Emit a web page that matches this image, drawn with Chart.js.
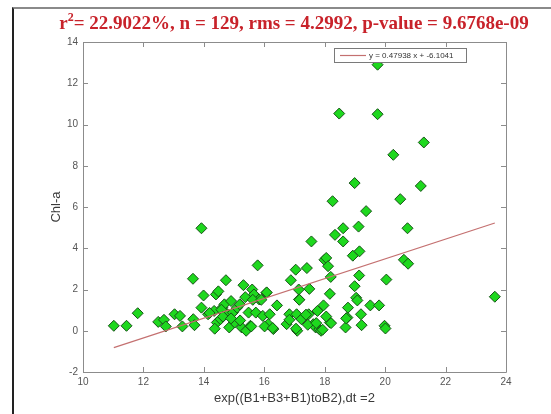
<!DOCTYPE html>
<html>
<head>
<meta charset="utf-8">
<script src="https://cdn.jsdelivr.net/npm/chart.js@4"></script>
<style>
  html, body { margin: 0; padding: 0; background: #fff; }
  #wrap { position: relative; width: 551px; height: 414px; overflow: hidden; }
  #frame { position: absolute; left: 12px; top: 7px; width: 560px; height: 420px;
           border-left: 2px solid #222; border-top: 2px solid #8a8a8a; }
  canvas { position: absolute; left: 0; top: 0; }
</style>
</head>
<body>
<div id="wrap">
  <div id="frame"></div>
  <canvas id="myChart" width="551" height="414"></canvas>
</div>
<script>
// scatter points
var xValues = [11.02,11.44,11.81,12.49,12.68,12.74,13.03,13.21,13.29,13.64,13.65,13.69,13.92,13.92,13.99,14.14,
  14.34,14.40,14.48,14.43,14.55,14.61,14.73,14.68,14.78,14.84,14.90,14.96,15.02,15.10,15.25,15.31,15.19,15.37,
  15.40,15.48,15.54,15.60,15.66,15.78,15.83,15.72,15.95,16.07,16.13,16.18,16.30,16.42,16.74,16.83,16.88,17.04,
  17.07,17.09,17.14,17.15,17.23,17.41,17.47,17.49,17.56,17.62,17.70,17.82,17.76,17.88,17.96,17.99,18.05,18.11,
  18.17,18.17,18.20,18.26,18.34,18.48,18.61,18.61,18.69,18.75,18.77,18.93,18.99,18.99,19.04,19.08,19.12,19.15,
  19.14,19.20,19.22,19.37,19.51,19.75,19.75,19.80,19.98,20.01,20.04,20.27,20.50,20.62,20.74,20.76,21.18,21.28,
  23.63,
  14.19,14.58,14.63,14.36,15.62,15.90,16.08,15.57,16.01,16.28,16.83,17.16,17.05,17.38,17.44,17.72,17.93,18.05,
  18.21,18.71,14.90,15.20];
var yValues = [0.24,0.24,0.85,0.43,0.53,0.21,0.80,0.72,0.21,2.52,0.56,0.27,4.97,1.12,1.71,0.80,
  0.96,1.76,1.91,0.40,0.56,1.12,2.45,1.28,0.80,0.16,1.44,0.88,0.40,1.12,0.16,2.21,1.28,1.63,
  0.00,0.88,0.24,2.00,1.76,3.17,1.52,0.88,0.72,1.84,0.32,0.80,0.08,1.23,0.32,0.80,2.45,2.96,
  0.80,0.00,2.00,1.52,0.56,3.04,0.80,2.03,4.33,0.32,0.16,0.08,0.96,0.00,1.23,3.44,3.53,3.13,
  1.79,0.40,2.61,6.28,4.65,10.53,4.97,4.33,0.16,0.64,1.12,3.64,7.16,2.16,1.60,1.47,5.05,3.85,
  2.68,0.80,0.27,5.80,1.23,12.90,10.50,1.23,0.24,0.11,2.48,8.53,6.38,3.44,4.97,3.25,7.02,9.13,
  1.65,
  0.86,1.02,0.69,0.10,1.50,1.50,1.86,0.21,0.21,0.13,0.53,1.50,0.10,0.78,0.29,0.37,0.05,0.69,
  0.37,0.60,0.60,0.50];

// fitted line end points
var fitX = [11.02, 23.63];
var fitY = [-0.821, 5.224];
var fitLabel = "y = 0.47938 x + -6.1041";

var xTicks = [10, 12, 14, 16, 18, 20, 22, 24];
var yTicks = [-2, 0, 2, 4, 6, 8, 10, 12, 14];

var titleRest = "= 22.9022%, n = 129, rms = 4.2992, p-value = 9.6768e-09";

var scatterPts = xValues.map(function (x, i) { return { x: x, y: yValues[i] }; });
var fitPts = fitX.map(function (x, i) { return { x: x, y: fitY[i] }; });

var axisGray = "#8c8c8c";

// title with a real superscript
var titlePlugin = {
  id: "titlePlugin",
  afterDraw: function (chart) {
    var ctx = chart.ctx;
    var big = "bold 19px 'Liberation Serif', 'Times New Roman', serif";
    var small = "bold 12px 'Liberation Serif', 'Times New Roman', serif";
    ctx.save();
    ctx.fillStyle = "#c8222a";
    ctx.textBaseline = "alphabetic";
    ctx.textAlign = "left";
    ctx.font = big;
    var wr = ctx.measureText("r").width;
    var wrest = ctx.measureText(titleRest).width;
    ctx.font = small;
    var w2 = ctx.measureText("2").width;
    var total = wr + w2 + wrest;
    var x0 = 294 - total / 2, base = 29;
    ctx.font = big;
    ctx.fillText("r", x0, base);
    ctx.font = small;
    ctx.fillText("2", x0 + wr, base - 8);
    ctx.font = big;
    ctx.fillText(titleRest, x0 + wr + w2, base);
    ctx.restore();
  }
};

// MATLAB style box with inward ticks + legend box
var boxPlugin = {
  id: "boxPlugin",
  afterDatasetsDraw: function (chart) {
    var ctx = chart.ctx, a = chart.chartArea;
    var xs = chart.scales.x, ys = chart.scales.y;
    ctx.save();
    ctx.strokeStyle = axisGray;
    ctx.lineWidth = 1;
    ctx.beginPath();
    ctx.rect(Math.round(a.left) + 0.5, Math.round(a.top) + 0.5,
             Math.round(a.right - a.left), Math.round(a.bottom - a.top));
    var tl = 5;
    xTicks.forEach(function (v) {
      var px = Math.round(xs.getPixelForValue(v)) + 0.5;
      ctx.moveTo(px, a.bottom); ctx.lineTo(px, a.bottom - tl);
      ctx.moveTo(px, a.top); ctx.lineTo(px, a.top + tl);
    });
    yTicks.forEach(function (v) {
      var py = Math.round(ys.getPixelForValue(v)) + 0.5;
      ctx.moveTo(a.left, py); ctx.lineTo(a.left + tl, py);
      ctx.moveTo(a.right, py); ctx.lineTo(a.right - tl, py);
    });
    ctx.stroke();

    // legend
    var lw = 132, lh = 14;
    var lx = a.right - 40 - lw, ly = a.top + 6;
    ctx.fillStyle = "#fff";
    ctx.fillRect(lx, ly, lw, lh);
    ctx.strokeStyle = "#7a7a7a";
    ctx.strokeRect(lx + 0.5, ly + 0.5, lw, lh);
    var ds = chart.data.datasets[0];
    ctx.strokeStyle = ds.borderColor;
    ctx.lineWidth = 1.2;
    ctx.beginPath();
    ctx.moveTo(lx + 6, ly + lh / 2 + 0.5);
    ctx.lineTo(lx + 32, ly + lh / 2 + 0.5);
    ctx.stroke();
    ctx.fillStyle = "#333";
    ctx.font = "8px 'Liberation Sans', Arial, sans-serif";
    ctx.textBaseline = "middle";
    ctx.textAlign = "left";
    ctx.fillText(fitLabel, lx + 35, ly + lh / 2 + 1);
    ctx.restore();
  }
};

var ctx = document.getElementById("myChart").getContext("2d");
var myChart = new Chart(ctx, {
  type: "scatter",
  data: {
    datasets: [
      {
        type: "line",
        label: fitLabel,
        data: fitPts,
        borderColor: "rgb(196,112,112)",
        borderWidth: 1.2,
        pointRadius: 0,
        fill: false,
        order: 0
      },
      {
        label: "data",
        data: scatterPts,
        pointStyle: "rectRot",
        pointRadius: 5.5,
        backgroundColor: "#1ed81e",
        borderColor: "#175217",
        borderWidth: 1,
        order: 1
      }
    ]
  },
  options: {
    responsive: false,
    animation: false,
    layout: { padding: { left: 0, right: 45, top: 42, bottom: 0 } },
    plugins: {
      legend: { display: false },
      tooltip: { enabled: false },
      title: { display: false }
    },
    scales: {
      x: {
        type: "linear",
        min: 10, max: 24,
        afterBuildTicks: function (s) { s.ticks = xTicks.map(function (v) { return { value: v }; }); },
        afterFit: function (s) { s.height = 42; },
        grid: { display: false, drawTicks: false },
        border: { display: false },
        ticks: { padding: 4, color: "#555", font: { family: "'Liberation Sans', Arial, sans-serif", size: 10 } },
        title: {
          display: true,
          text: "exp((B1+B3+B1)toB2),dt =2",
          color: "#3a3a3a",
          font: { family: "'Liberation Sans', Arial, sans-serif", size: 13 },
          padding: { top: 0, bottom: 8 }
        }
      },
      y: {
        type: "linear",
        min: -2, max: 14,
        afterBuildTicks: function (s) { s.ticks = yTicks.map(function (v) { return { value: v }; }); },
        afterFit: function (s) { s.width = 83; },
        grid: { display: false, drawTicks: false },
        border: { display: false },
        ticks: { padding: 5, color: "#555", font: { family: "'Liberation Sans', Arial, sans-serif", size: 10 } },
        title: {
          display: true,
          text: "Chl-a",
          color: "#3a3a3a",
          font: { family: "'Liberation Sans', Arial, sans-serif", size: 13 },
          padding: { top: 49, bottom: 0 }
        }
      }
    }
  },
  plugins: [boxPlugin, titlePlugin]
});
</script>
</body>
</html>
